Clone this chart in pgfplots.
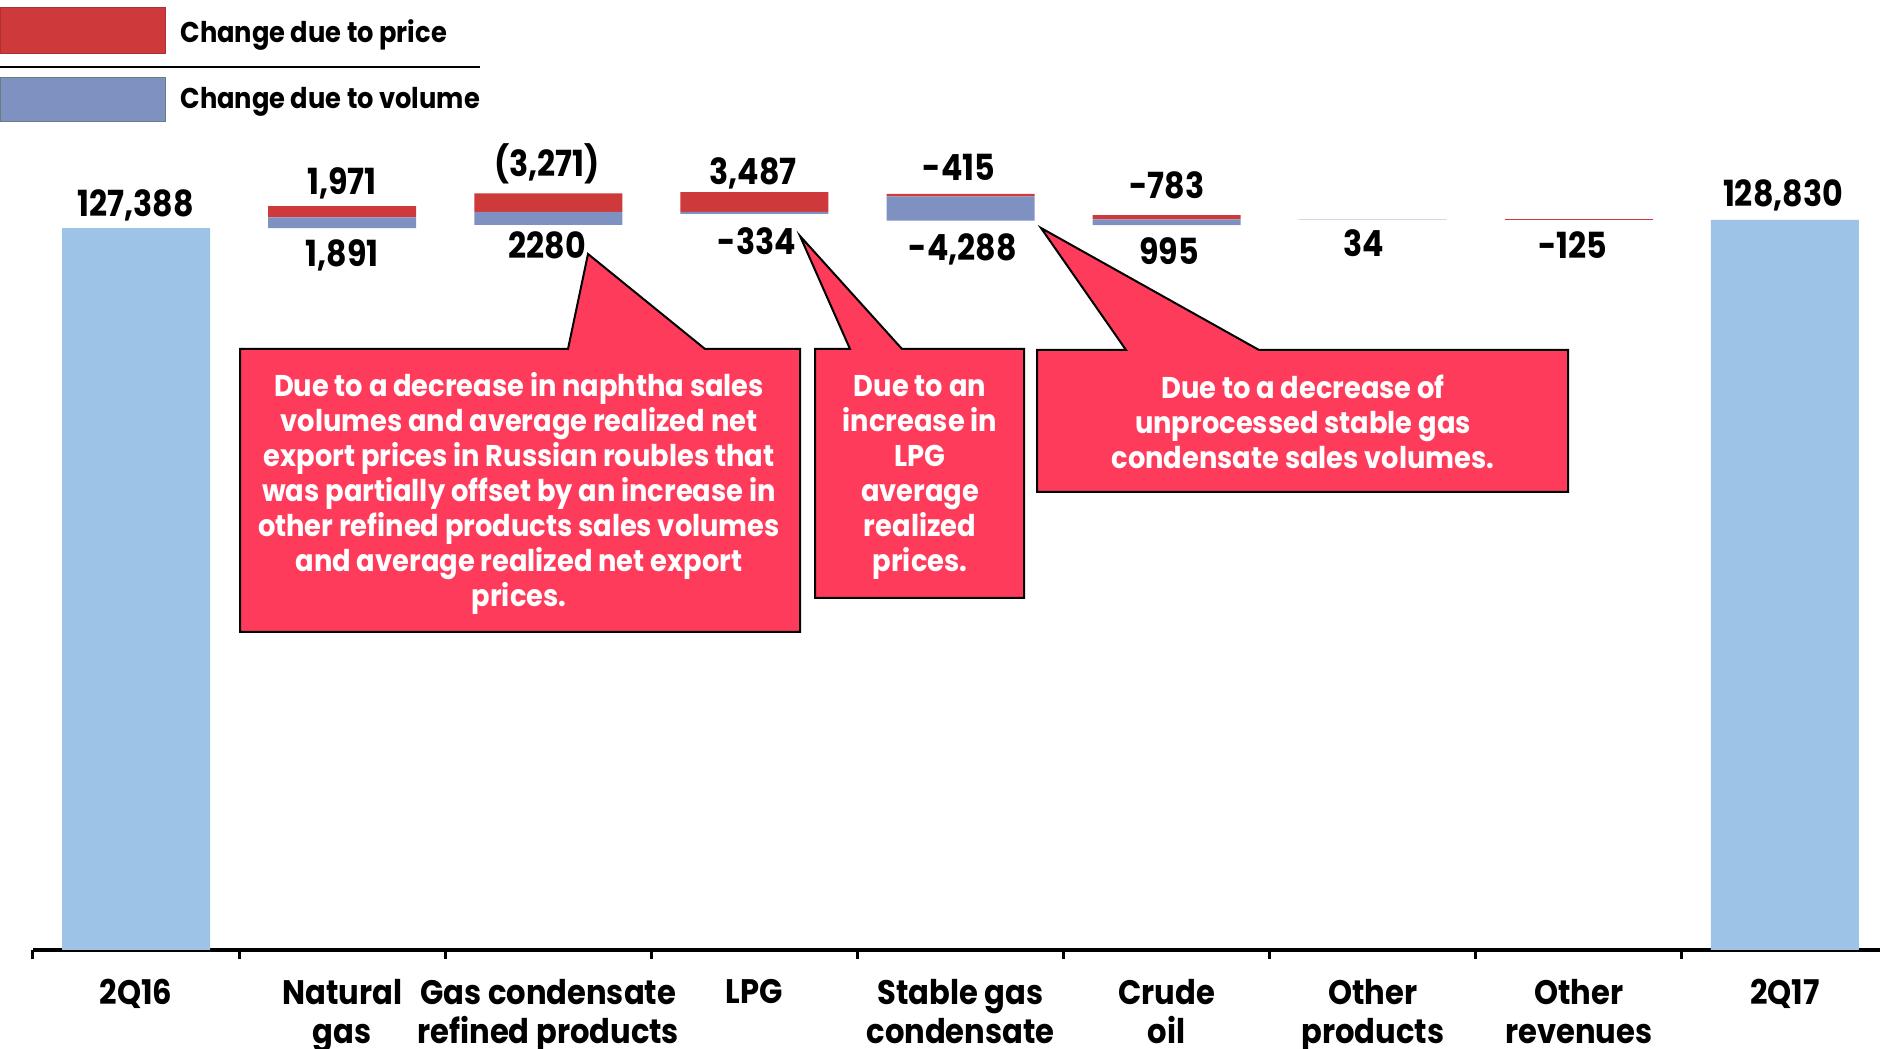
\documentclass[border=0pt]{standalone}
\usepackage{fontspec}
\setmainfont{Poppins}
\newfontfamily\numfont[FakeStretch=0.88]{Poppins}
\newfontfamily\catfont[FakeStretch=0.9]{Poppins}
\newfontfamily\boxfont[FakeStretch=0.91]{Poppins}
\usepackage{pgfplots}
\pgfplotsset{compat=1.18}
\usepackage{pgfplotstable}

\definecolor{priceRed}{RGB}{206,57,59}
\definecolor{volBlue}{RGB}{126,145,192}
\definecolor{totBlue}{RGB}{157,195,230}
\definecolor{callRed}{RGB}{255,59,92}

% waterfall: invisible base, totals, volume effect, price effect
\pgfplotstableread{
x base   total  volume price
0 0      127388 0      0
1 127388 0      1891   1971
2 127979 0      2280   3271
3 129925 0      334    3487
4 128709 0      4288   415
5 127926 0      995    783
6 128921 0      34     0
7 128830 0      0      125
8 0      128830 0      0
}\wfall

\begin{document}
\begin{tikzpicture}
\useasboundingbox (0,0) rectangle (940pt,524.5pt);
\begin{axis}[
  at={(16.5pt,49.5pt)}, anchor=south west,
  scale only axis, width=927.5pt, height=425pt,
  xmin=-0.5, xmax=8.5, ymin=0, ymax=150000,
  ybar stacked, bar width=74pt,
  axis y line=none, axis x line*=bottom,
  x axis line style={line width=2pt, -},
  xtick={0,...,8}, major tick length=0pt,
  minor xtick={-0.5,0.5,...,8.5}, minor tick length=4.5pt,
  tick align=outside,
  every tick/.style={black, line width=1.5pt},
  xticklabels={2Q16, Natural\\gas, Gas condensate\\refined products, LPG,
    Stable gas\\condensate, Crude\\oil, Other\\products, Other\\revenues, 2Q17},
  xticklabel style={align=center, yshift=-11pt,
    font=\catfont\bfseries\fontsize{17}{19.8}\selectfont},
  clip=false,
]
\addplot[fill=none, draw=none] table[x=x, y=base] {\wfall};
\addplot[fill=totBlue, draw=none] table[x=x, y=total] {\wfall};
\addplot[fill=volBlue, draw=none] table[x=x, y=volume] {\wfall};
\addplot[fill=priceRed, draw=none] table[x=x, y=price] {\wfall};
\end{axis}

\begin{scope}[x=0.5pt, y=-0.5pt, shift={(0pt,524.5pt)}]
  % legend
  \draw[fill=priceRed, draw=priceRed!85!black, line width=0.5pt] (0,8) rectangle (165,54);
  \draw[fill=volBlue, draw=gray!80!teal, line width=0.5pt] (0,78) rectangle (165,122);
  \draw[line width=1pt] (0,67) -- (480,67);
  \begin{scope}[every node/.style={anchor=west, inner sep=0pt,
      font=\catfont\bfseries\fontsize{14.3}{17}\selectfont}]
    \node at (180,35) {Change due to price};
    \node at (180,102) {Change due to volume};
  \end{scope}

  % value labels
  \begin{scope}[every node/.style={font=\numfont\bfseries\fontsize{18}{21}\selectfont}]
    \node at (135.5,205) {127,388};
    \node at (342,183) {1,971};
    \node at (342,255) {1,891};
    \node at (547,164) {(3,271)};
    \node at (547,245) {2280};
    \node at (753,173) {3,487};
    \node at (757,241) {-334};
    \node at (959,167) {-415};
    \node at (963,249) {-4,288};
    \node at (1167,185) {-783};
    \node at (1169,251) {995};
    \node at (1364,243) {34};
    \node at (1573,245) {-125};
    \node at (1783,195) {128,830};
  \end{scope}

  % callouts
  \begin{scope}[every node/.style={text=white, align=center,
      font=\boxfont\bfseries\fontsize{15}{17.5}\selectfont}]
    \filldraw[fill=callRed, draw=black, line width=1pt]
      (240,349) -- (568,349) -- (588,254) -- (705,349) -- (800,349)
      -- (800,632) -- (240,632) -- cycle;
    \node at (519,493) {Due to a decrease in naphtha sales\\
      volumes and average realized net\\
      export prices in Russian roubles that\\
      was partially offset by an increase in\\
      other refined products sales volumes\\
      and average realized net export\\
      prices.};
    \filldraw[fill=callRed, draw=black, line width=1pt]
      (815,349) -- (850,349) -- (800,236) -- (902,349) -- (1024,349)
      -- (1024,598) -- (815,598) -- cycle;
    \node at (920,477) {Due to an\\increase in\\LPG\\average\\realized\\prices.};
    \filldraw[fill=callRed, draw=black, line width=1pt]
      (1037,350) -- (1126,350) -- (1041,228) -- (1259,350) -- (1568,350)
      -- (1568,492) -- (1037,492) -- cycle;
    \node at (1303,422) {Due to a decrease of\\
      unprocessed stable gas\\
      condensate sales volumes.};
  \end{scope}
\end{scope}
\end{tikzpicture}
\end{document}
